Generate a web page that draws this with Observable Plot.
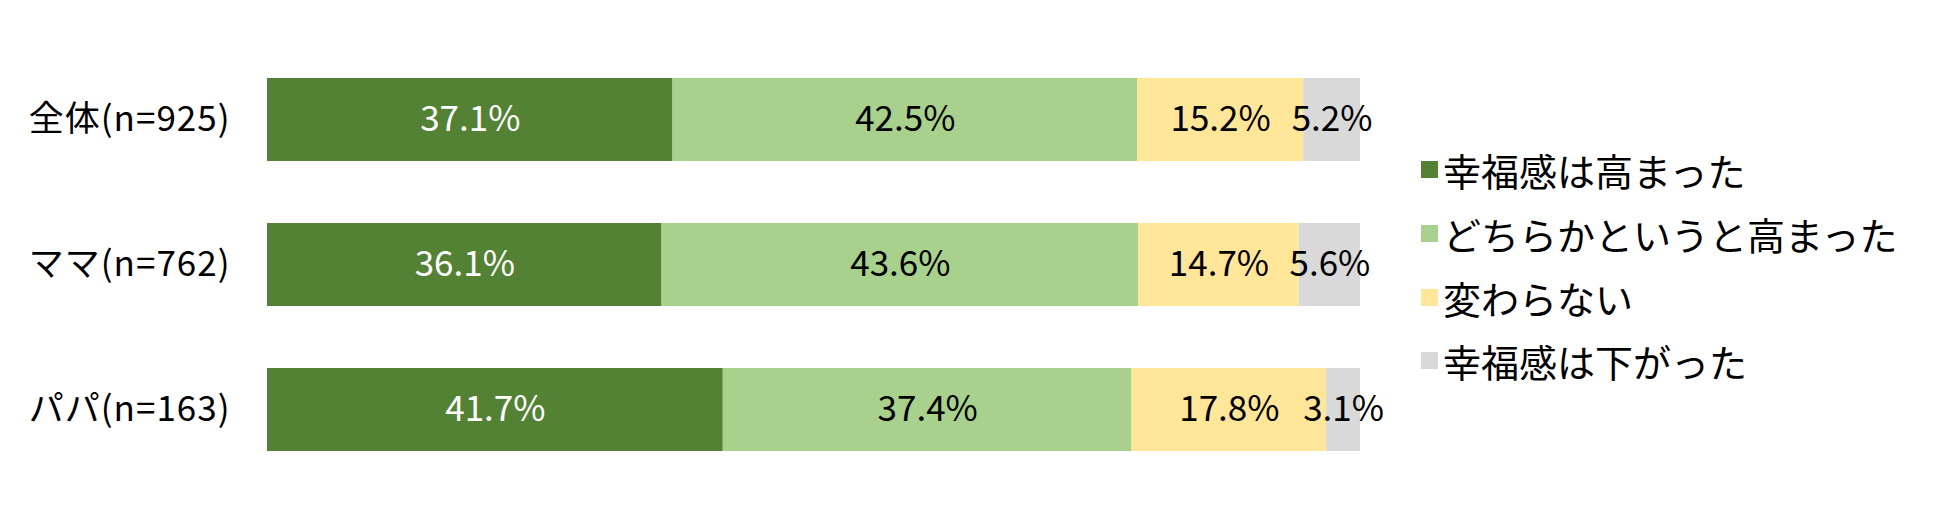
<!DOCTYPE html>
<html><head><meta charset="utf-8">
<script src="https://cdn.jsdelivr.net/npm/d3@7"></script>
<script src="https://cdn.jsdelivr.net/npm/@observablehq/plot@0.6"></script>
<style>
body{margin:0;background:#fff;}
#wrap{position:relative;width:1950px;height:529px;font-family:"Noto Sans CJK JP",sans-serif;}
#legend{position:absolute;left:1421px;top:138px;}
.item{display:flex;align-items:center;height:63.7px;font-size:38px;color:#000;}
.sw{width:17px;height:17px;margin-right:5px;}
.yaxis text{letter-spacing:1px;}
</style></head>
<body><div id="wrap"><div id="legend"></div></div>
<script>
const groups = ["全体(n=925)", "ママ(n=762)", "パパ(n=163)"];
const categories = ["幸福感は高まった", "どちらかというと高まった", "変わらない", "幸福感は下がった"];
const colors = ["#548235", "#A9D18E", "#FFE699", "#D9D9D9"];
const valuesAll = [37.1, 42.5, 15.2, 5.2];
const valuesMama = [36.1, 43.6, 14.7, 5.6];
const valuesPapa = [41.7, 37.4, 17.8, 3.1];

const series = [valuesAll, valuesMama, valuesPapa];
const data = [];
groups.forEach((g, gi) => categories.forEach((c, ci) => data.push({group: g, category: c, value: series[gi][ci]})));

const stackOpts = {x: "value", y: "group", z: "category", order: categories};
const fmt = d => d.value.toFixed(1) + "%";

const chart = Plot.plot({
  width: 1950,
  height: 529,
  marginLeft: 267,
  marginRight: 590,
  marginTop: 15.5,
  marginBottom: 15.5,
  style: {fontFamily: '"Noto Sans CJK JP", sans-serif', background: "#fff"},
  x: {domain: [0, 100], axis: null},
  y: {domain: groups, padding: 0.43, label: null},
  color: {domain: categories, range: colors},
  marks: [
    Plot.barX(data, Plot.stackX({...stackOpts, fill: "category"})),
    Plot.text(data, Plot.stackX({...stackOpts, text: d => d.category === categories[0] ? fmt(d) : "", fill: "#fff", fontSize: 35})),
    Plot.text(data, Plot.stackX({...stackOpts, text: d => d.category !== categories[0] ? fmt(d) : "", fill: "#000", fontSize: 35})),
    Plot.axisY({tickSize: 0, tickPadding: 37, fontSize: 35, fill: "#000", label: null, className: "yaxis"})
  ]
});
document.getElementById("wrap").prepend(chart);

const legend = document.getElementById("legend");
categories.forEach((c, i) => {
  const it = document.createElement("div");
  it.className = "item";
  const sw = document.createElement("span");
  sw.className = "sw";
  sw.style.background = colors[i];
  const t = document.createElement("span");
  t.textContent = c;
  it.append(sw, t);
  legend.append(it);
});
</script></body></html>
